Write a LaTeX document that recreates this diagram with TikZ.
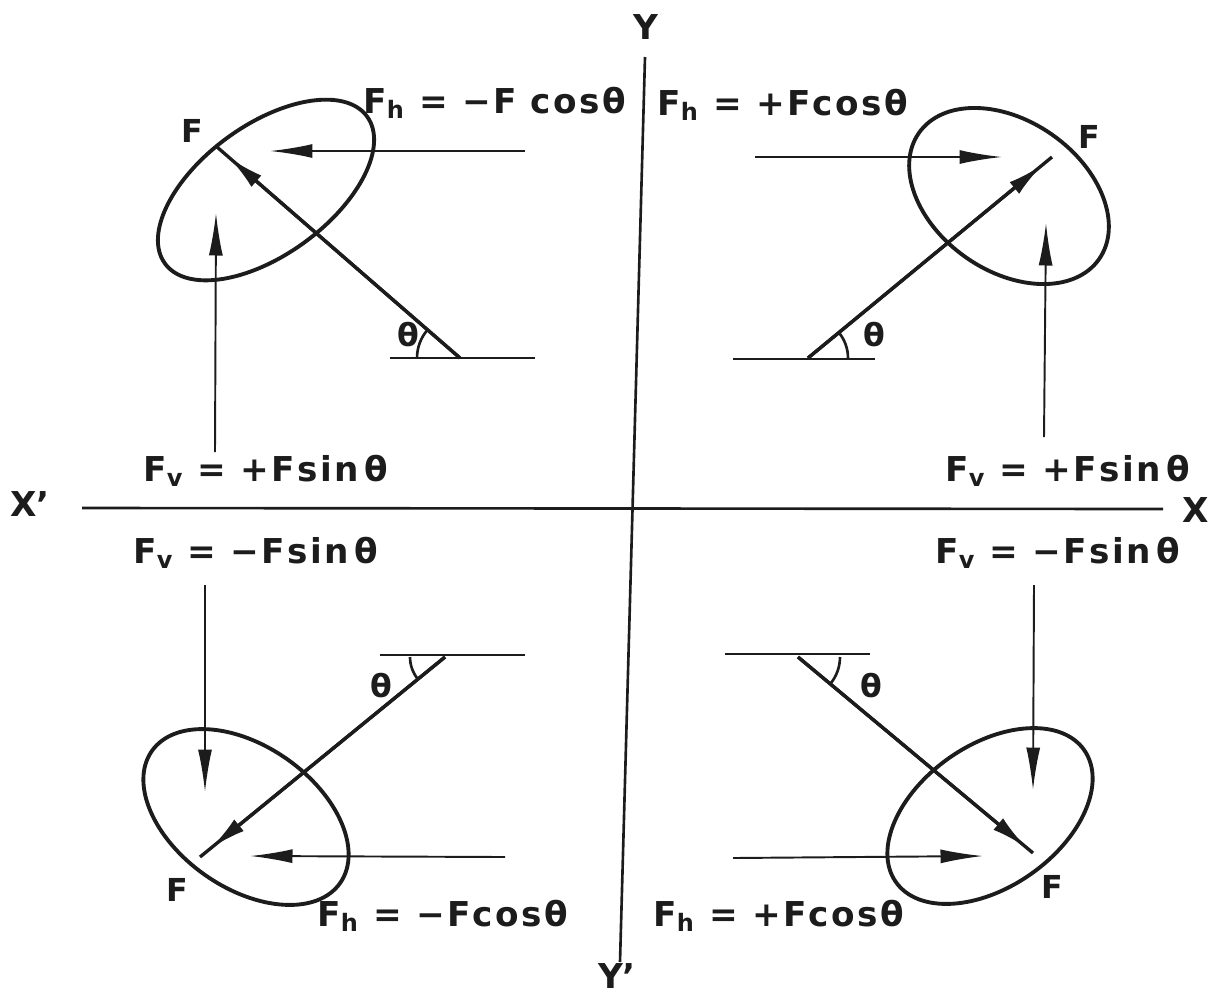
\documentclass[tikz,border=0pt]{standalone}
\usepackage{fontspec}
\setmainfont{DejaVu Sans}
\newfontfamily\labfont{DejaVu Sans}[LetterSpace=7]
\usetikzlibrary{arrows.meta,calc}
\definecolor{inkc}{RGB}{28,28,28}
\begin{document}
\begin{tikzpicture}[x=0.02cm,y=-0.02cm,
  axisline/.style={draw=inkc,line width=1.5pt},
  comp/.style={draw=inkc,line width=1.1pt,-{Latex[length=0.85cm,width=0.28cm]}},
  baseline/.style={draw=inkc,line width=1.5pt},
  force/.style={draw=inkc,line width=1.9pt},
  forcehead/.style={draw=inkc,line width=1.9pt,-{Latex[length=0.72cm,width=0.3cm]}},
  ell/.style={draw=inkc,line width=2.2pt},
  anglearc/.style={draw=inkc,line width=1.5pt},
  eq/.style={anchor=base west,inner sep=0pt,text=inkc,font=\fontsize{19.5}{22}\selectfont\labfont\bfseries},
  axlab/.style={inner sep=0pt,text=inkc,font=\fontsize{19.5}{22}\selectfont\bfseries},
  small/.style={inner sep=0pt,text=inkc,font=\fontsize{18}{20}\selectfont\bfseries}]
\useasboundingbox (0,0) rectangle (1210,995);

% axes
\coordinate (xl) at (82,508);
\coordinate (xr) at (1163,509);
\coordinate (yt) at (645,57);
\coordinate (yb) at (620,962);
\draw[axisline] (xl) -- (xr);
\draw[axisline] (yt) -- (yb);
\node[axlab] (labX1) at (30,504) {X'};
\node[axlab,anchor=east] (labX) at (1209,510) {X};
\node[axlab] (labY) at (646,27) {Y};
\node[axlab] (labY1) at (617,976) {Y'};

% ---------- top left ----------
\coordinate (c1) at (266,190);
\draw[ell, rotate around={36:(c1)}] (c1) ellipse [x radius=2.5cm, y radius=1.3cm];
\coordinate (v1) at (460,358);
\coordinate (e1) at (217,147);
\coordinate (b1l) at (390,358);
\coordinate (b1r) at (535,358);
\draw[baseline] (b1l) -- (b1r);
\draw[force] (v1) -- (e1);
\draw[forcehead] (v1) -- ($(v1)!0.95!(e1)$);
\draw[anglearc] (v1) ++(180:0.86cm) arc[start angle=180, end angle=139, radius=0.86cm];
\coordinate (h1s) at (525,151);
\coordinate (h1e) at (270,151);
\draw[comp] (h1s) -- (h1e);
\coordinate (u1s) at (215,452);
\coordinate (u1e) at (216,213);
\draw[comp] (u1s) -- (u1e);
\node[small] (F1) at (192,131) {F};
\node[small] (t1) at (408,335) {θ};
\node[eq] (fh1) at (363,113) {F\textsubscript{h} = −F cosθ};
\node[eq] (fv1) at (143,481) {F\textsubscript{v} = +Fsin\,θ};

% ---------- top right ----------
\coordinate (c2) at (1009,196);
\draw[ell, rotate around={-35:(c2)}] (c2) ellipse [x radius=2.2cm, y radius=1.5cm];
\coordinate (v2) at (808,358);
\coordinate (e2) at (1052,157);
\coordinate (b2l) at (733,359);
\coordinate (b2r) at (875,359);
\draw[baseline] (b2l) -- (b2r);
\draw[force] (v2) -- (e2);
\draw[forcehead] (v2) -- ($(v2)!0.96!(e2)$);
\draw[anglearc] (v2) ++(0:0.8cm) arc[start angle=0, end angle=39.5, radius=0.8cm];
\coordinate (h2s) at (755,157);
\coordinate (h2e) at (1002,157);
\draw[comp] (h2s) -- (h2e);
\coordinate (u2s) at (1044,437);
\coordinate (u2e) at (1046,223);
\draw[comp] (u2s) -- (u2e);
\node[small] (F2) at (1089,137) {F};
\node[small] (t2) at (874,335) {θ};
\node[eq] (fh2) at (657,115) {F\textsubscript{h} = +Fcosθ};
\node[eq] (fv2) at (945,481) {F\textsubscript{v} = +Fsin\,θ};

% ---------- bottom left ----------
\coordinate (c3) at (246,817);
\draw[ell, rotate around={-35:(c3)}] (c3) ellipse [x radius=2.3cm, y radius=1.42cm];
\coordinate (v3) at (445,657);
\coordinate (e3) at (200,857);
\coordinate (b3l) at (380,655);
\coordinate (b3r) at (525,655);
\draw[baseline] (b3l) -- (b3r);
\draw[force] (v3) -- (e3);
\draw[forcehead] (v3) -- ($(v3)!0.955!(e3)$);
\draw[anglearc] (v3) ++(180:0.7cm) arc[start angle=180, end angle=219, radius=0.7cm];
\coordinate (h3s) at (505,857);
\coordinate (h3e) at (250,856);
\draw[comp] (h3s) -- (h3e);
\coordinate (u3s) at (205,585);
\coordinate (u3e) at (205,792);
\draw[comp] (u3s) -- (u3e);
\node[small] (F3) at (177,890) {F};
\node[small] (t3) at (381,686) {θ};
\node[eq] (fh3) at (317,926) {F\textsubscript{h} = −Fcosθ};
\node[eq] (fv3) at (133,563) {F\textsubscript{v} = −Fsin\,θ};

% ---------- bottom right ----------
\coordinate (c4) at (990,816);
\draw[ell, rotate around={35:(c4)}] (c4) ellipse [x radius=2.3cm, y radius=1.42cm];
\coordinate (v4) at (798,657);
\coordinate (e4) at (1033,853);
\coordinate (b4l) at (725,654);
\coordinate (b4r) at (870,654);
\draw[baseline] (b4l) -- (b4r);
\draw[force] (v4) -- (e4);
\draw[forcehead] (v4) -- ($(v4)!0.97!(e4)$);
\draw[anglearc] (v4) ++(320:0.84cm) arc[start angle=320, end angle=360, radius=0.84cm];
\coordinate (h4s) at (733,858);
\coordinate (h4e) at (983,856);
\draw[comp] (h4s) -- (h4e);
\coordinate (u4s) at (1034,585);
\coordinate (u4e) at (1033,790);
\draw[comp] (u4s) -- (u4e);
\node[small] (F4) at (1052,887) {F};
\node[small] (t4) at (871,686) {θ};
\node[eq] (fh4) at (653,926) {F\textsubscript{h} = +Fcosθ};
\node[eq] (fv4) at (935,563) {F\textsubscript{v} = −Fsin\,θ};
\end{tikzpicture}
\end{document}
